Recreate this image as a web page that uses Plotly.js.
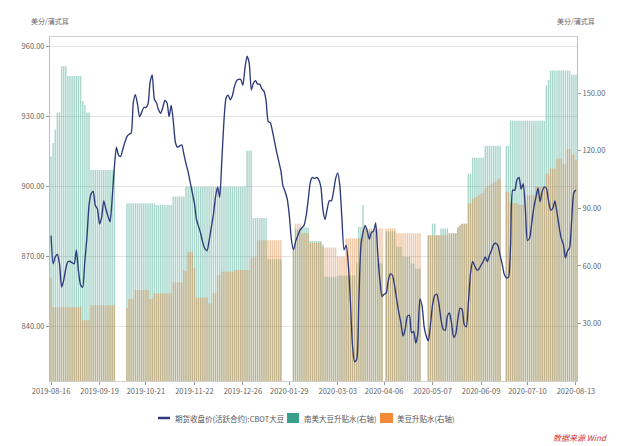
<!DOCTYPE html>
<html>
<head>
<meta charset="utf-8">
<script src="https://cdn.plot.ly/plotly-3.0.1.min.js"></script>
<style>
html,body{margin:0;padding:0;background:#fff;}
#chart{width:619px;height:446px;}
</style>
</head>
<body>
<div id="chart"></div>
<script>
// tick labels on the trading-day axis
const tickLabels = ['2019-08-16','2019-09-19','2019-10-21','2019-11-22','2019-12-26','2020-01-29',
  '2020-03-03','2020-04-06','2020-05-07','2020-06-09','2020-07-10','2020-08-13'];
const tickIndex = [0,23,45,68,91,113,136,158,181,204,226,249];

// 期货收盘价(活跃合约):CBOT大豆 (left axis)
const cbotPrice = [
  879,867,870,871,867,857,860,865,868,868,
  867.5,867,873,864,858,857,868,878,892,897,
  898,892,890.5,884,887,894,890.5,887.5,885,895,
  908,917,913.6,913,916,919,921.5,922.5,923,936,
  939.5,935.5,930,932,934,934,935.5,945,948,937.5,
  936,933,931.5,934,937,936,930,935,928,919,
  917,917.5,918,914,910,906.5,902,897.5,893,886,
  883,880,876,873.5,872.6,877,882.5,888,895.5,900,
  895.5,911,928,938,939.3,937.3,939,943,945.5,946,
  946,943.5,951,956,953,941.5,944.5,945.5,944,944,
  942,941,937,928,927.5,924,919.5,915,911,907,
  900.5,898,895,888,877.5,873,876.5,879,881.3,882.5,
  883.5,887.5,894.5,902,904,903.6,904,903,900,890,
  886,890.5,894,894,898,903.5,906,900.5,886,873,
  875,867,851,832,825,826,851,875,880.5,883.5,
  881,877.5,880.5,881,884.5,871,860,853,854,854.5,
  860,862.7,862,857.5,851.4,846,841.4,836,839,844.5,
  845,837.5,838,833,837,852,849,840,836,834,
  841,849.5,853.5,854,850,843,839,838.5,844.5,846,
  841.5,835.5,837,843.5,848,847.5,841,840,850.5,863,
  868,866,864.3,864.8,866.5,868,870,868,870.8,872.9,
  875.4,875.8,874.8,870.7,867,862.5,861,861.3,875,898.6,
  898.5,903,904,899,901.4,890.5,877,878,884.3,891,
  895.5,899.5,893.6,898,900,899.3,894,890,890.8,894,
  889,883,878,875.5,869.5,872.5,874,886,897.5,898.6
];

// 南美大豆升贴水(右轴)
const southAmericaPremium = [
  117,124,131,140,140,164,164,164,159,159,
  159,159,159,159,159,146,144,140,140,110,
  110,110,110,110,110,110,110,110,110,110,
  110,null,null,null,null,null,92.6,92.6,92.6,92.6,
  92.6,92.6,92.6,92.6,92.6,92.6,92.6,92.6,92.6,92.6,
  91.7,91.7,91.7,91.7,91.7,91.7,91.7,91.7,96.2,96.2,
  96.2,96.2,96.2,96.2,101.2,101.2,101.2,101.2,101.2,101.2,
  101.2,101.2,101.2,101.2,101.2,101.2,101.2,101.2,101.2,101.2,
  101.2,101.2,101.2,101.2,101.2,101.2,101.2,101.2,101.2,101.2,
  101.2,101.2,101.2,120,120,120,85,85,85,85,
  85,85,85,63.5,63.5,63.5,63.5,63.5,63.5,63.5,
  null,null,null,null,null,68,79,79,79,80,
  80,80,80,73,73,73,73,73,73,71,
  54.3,54.3,54.3,54.3,54.3,54.3,55,55,55,55,
  55,55,55,55,55,61.3,80.4,80.4,91.7,78.5,
  78.5,78.5,78.5,78.5,78.5,61.3,61.3,61.3,null,78,
  78,78,78,78,70,70,70,64.7,64.7,64.7,
  64.7,61.3,61.3,58.7,58.7,58.7,null,null,null,76,
  76,82,82,76,76,79.5,79.5,79.5,79.5,77,
  77,77,77,80,81,82,82,82,108,108,
  116.4,116.4,116.4,116.4,116.4,116.4,122.6,122.6,122.6,122.6,
  122.6,122.6,122.6,122.6,null,null,122.6,122.6,135.7,135.7,
  135.7,135.7,135.7,135.7,135.7,135.7,135.7,135.7,135.7,135.7,
  135.7,135.7,135.7,135.7,135.7,154,157,161.8,161.8,161.8,
  161.8,161.8,161.8,161.8,161.8,161.8,161.8,159.6,159.6,159.6
];

// 美豆升贴水(右轴)
const usPremium = [
  54,38.5,38.5,38.5,38.5,38.5,38.5,38.5,38.5,38.5,
  38.5,38.5,38.5,38.5,38.5,31.6,31.6,31.6,31.6,39.5,
  39.5,39.5,39.5,39.5,39.5,39.5,39.5,39.5,39.5,39.5,
  39.5,null,null,null,null,null,38,42.7,42.7,42.7,
  47.4,47.4,47.4,47.4,47.4,47.4,47.4,42.7,42.7,45.6,
  45.6,45.6,45.6,45.6,45.6,45.6,45.6,45.6,51.4,51.4,
  51.4,51.4,51.4,57.4,57.4,67.3,67.3,67.3,59,43.4,
  43.4,43.4,43.4,43.4,43.4,40.4,40.4,45.6,45.6,55.2,
  55.2,56.9,56.9,56.9,56.9,56.9,56.9,57.8,57.8,57.8,
  57.8,57.8,57.8,57.8,57.8,64.4,64.4,64.4,73.4,73.4,
  73.4,73.4,73.4,73.4,73.4,73.4,73.4,73.4,73.4,73.4,
  null,null,null,null,null,68,82,82,82,77,
  77,77,77,72,72,72,72,72,72,70,
  69.6,69.6,69.6,69.6,69.6,69.6,64.7,64.7,64.7,64.7,
  74.3,74.3,74.3,74.3,74.3,74.3,74.3,74.3,79.5,79.5,
  79.5,79.5,79.5,79.5,79.5,79.5,79.5,79.5,null,79.5,
  79.5,79.5,79.5,79.5,77,77,77,77,77,77,
  77,77,77,77,77,77,null,null,null,76,
  76,76,76,76,76,76,76,76,76,77,
  77,77,77,80,81,82,82,82,92.6,92.6,
  95,95.5,96,97,97.5,98,100.6,101.5,102,103,
  103.5,104,105,105.6,null,null,98.7,98.7,92.6,92.6,
  92.6,92.6,91.7,91.7,91.7,91.7,96.9,96.9,96.9,96.9,
  101.3,101.3,101.3,101.3,101.3,108,108,110.8,110.8,110.8,
  116,116,116,113,113,121,121,118,118,115
];

const seriesNames = ['期货收盘价(活跃合约):CBOT大豆','南美大豆升贴水(右轴)','美豆升贴水(右轴)'];
const unitLabel = '美分/蒲式耳';
const sourceLabel = '数据来源 Wind';

const xIdx = cbotPrice.map((_, i) => i);
const FONT = '"Noto Sans CJK SC", "Noto Sans", sans-serif';
const TEAL = 'rgba(40,155,128,0.40)';
const ORANGE = 'rgba(226,132,58,0.44)';
const NAVY = '#2d3a7a';

const traces = [
  {type:'bar', x:xIdx, y:southAmericaPremium, name:seriesNames[1], yaxis:'y',
   marker:{color:TEAL, line:{width:0}}, hoverinfo:'skip'},
  {type:'bar', x:xIdx, y:usPremium, name:seriesNames[2], yaxis:'y',
   marker:{color:ORANGE, line:{width:0}}, hoverinfo:'skip'},
  {type:'scatter', mode:'lines', x:xIdx, y:cbotPrice, name:seriesNames[0], yaxis:'y2',
   line:{color:NAVY, width:1.35, shape:'spline', smoothing:0.6}, connectgaps:true, hoverinfo:'skip'}
];

const W = 619, H = 446, L = 50, R = 42, T = 37, B = 65;
const pw = W - L - R, ph = H - T - B;
const px = v => (v - L) / pw;
const py = v => (H - B - v) / ph;

const annFont = {family:FONT, size:7, color:'#666'};
const legFont = {family:FONT, size:7.5, color:'#555'};
const tickFont = {family:FONT, size:7.5, color:'#666'};

const layout = {
  width:W, height:H,
  margin:{l:L, r:R, t:T, b:B, pad:0},
  paper_bgcolor:'#fff', plot_bgcolor:'#fff',
  showlegend:false,
  barmode:'overlay', bargap:0.3,
  font:{family:FONT, size:8, color:'#666'},
  xaxis:{range:[-0.5, cbotPrice.length - 0.5], tickmode:'array', tickvals:tickIndex, ticktext:tickLabels,
    tickfont:tickFont, ticks:'outside', ticklen:3, tickcolor:'#999',
    showline:true, linecolor:'#cfcfcf', linewidth:1, mirror:true, showgrid:false, zeroline:false, fixedrange:true},
  yaxis:{side:'right', range:[0, 179.3], tickmode:'array', tickvals:[30,60,90,120,150], tickformat:'.2f',
    tickfont:tickFont, ticks:'outside', ticklen:3, tickcolor:'#999',
    showline:true, linecolor:'#bdbdbd', showgrid:false, zeroline:false, fixedrange:true},
  yaxis2:{overlaying:'y', side:'left', range:[816.8, 964.2], tickmode:'array', tickvals:[840,870,900,930,960],
    tickformat:'.2f', tickfont:tickFont, ticks:'outside', ticklen:3, tickcolor:'#999',
    showline:true, linecolor:'#bdbdbd', showgrid:true, gridcolor:'#e4e4e4', gridwidth:1, zeroline:false, fixedrange:true},
  shapes:[
    {type:'line', xref:'paper', yref:'paper', x0:px(158), x1:px(170), y0:py(418), y1:py(418),
     line:{color:NAVY, width:2.5}},
    {type:'rect', xref:'paper', yref:'paper', x0:px(287), x1:px(299), y0:py(423), y1:py(413),
     fillcolor:'#3a9e88', line:{width:0}},
    {type:'rect', xref:'paper', yref:'paper', x0:px(380), x1:px(393), y0:py(423), y1:py(413),
     fillcolor:'#f28a3a', line:{width:0}}
  ],
  annotations:[
    {xref:'paper', yref:'paper', x:px(50), y:py(20.5), text:unitLabel, showarrow:false,
     xanchor:'center', yanchor:'middle', font:annFont},
    {xref:'paper', yref:'paper', x:px(576), y:py(21), text:unitLabel, showarrow:false,
     xanchor:'center', yanchor:'middle', font:annFont},
    {xref:'paper', yref:'paper', x:px(173), y:py(418), text:seriesNames[0], showarrow:false,
     xanchor:'left', yanchor:'middle', font:legFont},
    {xref:'paper', yref:'paper', x:px(302), y:py(418), text:seriesNames[1], showarrow:false,
     xanchor:'left', yanchor:'middle', font:legFont},
    {xref:'paper', yref:'paper', x:px(395), y:py(418), text:seriesNames[2], showarrow:false,
     xanchor:'left', yanchor:'middle', font:legFont},
    {xref:'paper', yref:'paper', x:px(551), y:py(437), text:'<i>' + sourceLabel + '</i>', showarrow:false,
     xanchor:'left', yanchor:'middle', font:{family:FONT, size:8, color:'#d6312f'}}
  ]
};

Plotly.newPlot('chart', traces, layout, {displayModeBar:false, staticPlot:true});
</script>
</body>
</html>
